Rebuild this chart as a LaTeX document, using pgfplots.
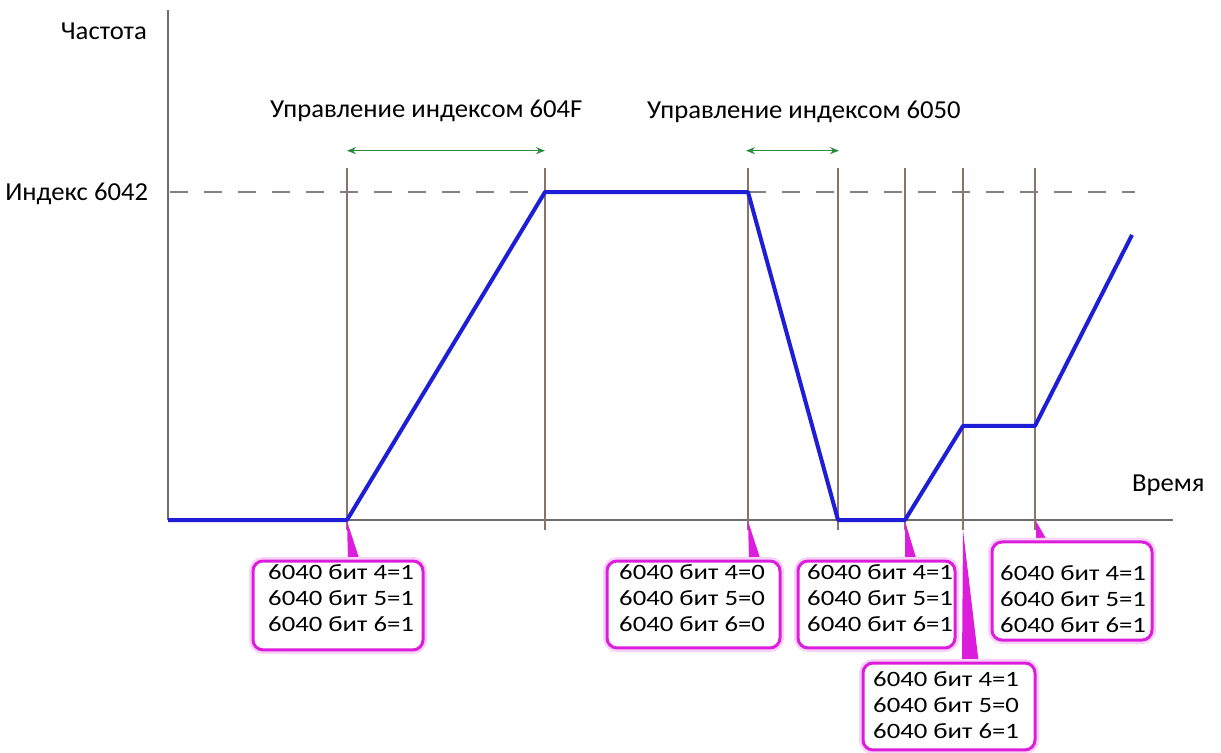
\documentclass[border=0pt]{standalone}
\usepackage{fontspec}
\setmainfont{Carlito}[FakeStretch=1.03]
\newfontfamily\boxfont{Carlito}[FakeStretch=1.22]
\usepackage{pgfplots}
\pgfplotsset{compat=1.18}
\usetikzlibrary{arrows.meta}

\definecolor{speed}{RGB}{30,30,215}
\definecolor{marker}{RGB}{140,115,105}
\definecolor{level}{RGB}{128,128,128}
\definecolor{span}{RGB}{40,140,60}
\definecolor{callout}{RGB}{220,30,220}
\definecolor{axisgray}{RGB}{110,110,110}

% three-line control word note, first baseline at (#1,#2)
\newcommand{\bits}[5]{%
  \node[anchor=base west,inner sep=0,font=\boxfont\fontsize{22}{26}\selectfont] at (axis cs:#1,#2) {#3};
  \node[anchor=base west,inner sep=0,font=\boxfont\fontsize{22}{26}\selectfont] at (axis cs:#1,{#2-7.93}) {#4};
  \node[anchor=base west,inner sep=0,font=\boxfont\fontsize{22}{26}\selectfont] at (axis cs:#1,{#2-15.86}) {#5};
}
% rounded note frame with a soft halo
\newcommand{\frameit}[4]{%
  \draw[callout!20, line width=8bp, rounded corners=10bp] (axis cs:#1,#2) rectangle (axis cs:#3,#4);
  \draw[callout, fill=white, line width=3bp, rounded corners=10bp] (axis cs:#1,#2) rectangle (axis cs:#3,#4);
}

\begin{document}
\begin{tikzpicture}
\path[use as bounding box] (0,0) rectangle (1221bp,-753bp);
\begin{axis}[
  at={(168bp,-520bp)}, anchor=south west,
  x=10bp, y=3.28bp,
  xmin=0, xmax=100.5, ymin=0, ymax=155.5,
  axis lines=middle,
  axis line style={axisgray, line width=1.5bp, -},
  xtick=\empty, ytick=\empty,
  clip=false,
  font=\fontsize{26}{30}\selectfont,
]
% event markers
\pgfplotsinvokeforeach{17.9,37.7,58.0,67.0,73.7,79.5,86.7}{
  \addplot[marker, line width=1.3bp] coordinates {(#1,-3.05) (#1,107.3)};
}
% target speed level
\addplot[level, line width=1.8bp, dash pattern=on 18bp off 16bp] coordinates {(0.2,100) (96.7,100)};
% speed profile
\addplot[speed, line width=4bp, line join=round] coordinates {
  (0,0) (17.9,0) (37.7,100) (58.0,100) (67.0,0) (73.7,0) (79.5,28.7) (86.7,28.7) (96.4,86.9)};
% ramp spans
\addplot[span, line width=1.2bp, {Stealth[length=9bp,width=7bp]}-{Stealth[length=9bp,width=7bp]}] coordinates {(17.9,112.6) (37.7,112.6)};
\addplot[span, line width=1.2bp, {Stealth[length=9bp,width=7bp]}-{Stealth[length=9bp,width=7bp]}] coordinates {(57.8,112.6) (67.1,112.6)};

% axis texts
\node[anchor=base east, inner sep=0] at (axis cs:-2.1,146.6) {Частота};
\node[anchor=base east, inner sep=0] at (axis cs:-1.97,97.3) {Индекс 6042};
\node[anchor=base west, inner sep=0] at (axis cs:96.4,8.6) {Время};
\node[anchor=base west, inner sep=0] at (axis cs:10.2,122.6) {Управление индексом 604F};
\node[anchor=base west, inner sep=0] at (axis cs:47.9,122.3) {Управление индексом 6050};

% pointers
\fill[callout] (axis cs:17.9,-0.3) -- (axis cs:18.0,-12.5) -- (axis cs:19.2,-12.5) -- cycle;
\fill[callout] (axis cs:58.0,-0.3) -- (axis cs:58.1,-12.5) -- (axis cs:59.3,-12.5) -- cycle;
\fill[callout] (axis cs:73.7,-0.3) -- (axis cs:73.7,-12.5) -- (axis cs:74.9,-12.5) -- cycle;
\fill[callout] (axis cs:86.8,-0.3) -- (axis cs:86.8,-6.7) -- (axis cs:88.0,-6.7) -- cycle;
\fill[callout] (axis cs:79.5,-3.05) -- (axis cs:79.4,-44.2) -- (axis cs:81.1,-44.2) -- cycle;

% notes
\frameit{8.5}{-12.5}{25.5}{-39.6}
\frameit{43.9}{-12.5}{61.2}{-39.0}
\frameit{63.0}{-12.5}{78.7}{-39.0}
\frameit{82.4}{-6.7}{98.4}{-36.6}
\frameit{69.5}{-43.6}{86.7}{-70.1}
\bits{10.0}{-18.0}{6040 бит 4=1}{6040 бит 5=1}{6040 бит 6=1}
\bits{45.1}{-18.0}{6040 бит 4=0}{6040 бит 5=0}{6040 бит 6=0}
\bits{63.9}{-18.0}{6040 бит 4=1}{6040 бит 5=1}{6040 бит 6=1}
\bits{83.2}{-18.3}{6040 бит 4=1}{6040 бит 5=1}{6040 бит 6=1}
\bits{70.5}{-50.9}{6040 бит 4=1}{6040 бит 5=0}{6040 бит 6=1}
\end{axis}
\end{tikzpicture}
\end{document}
